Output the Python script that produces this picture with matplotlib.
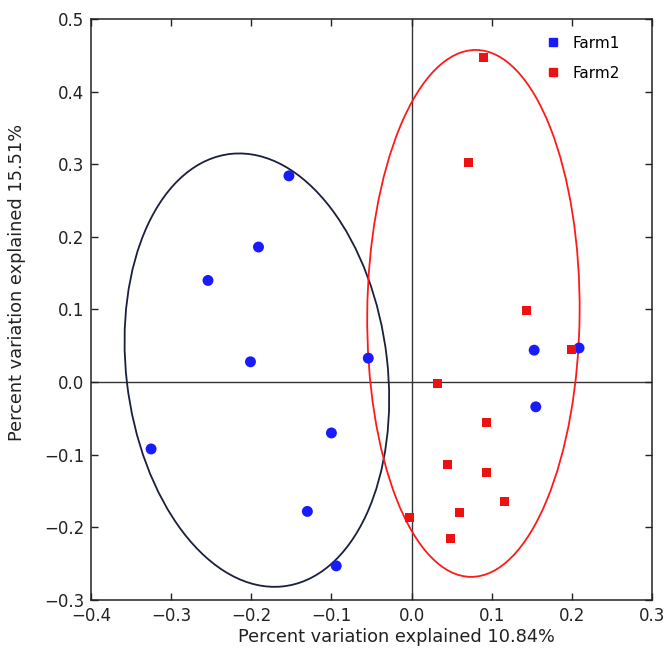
import matplotlib
matplotlib.use("Agg")
import matplotlib.pyplot as plt
from matplotlib.patches import Ellipse
from matplotlib.lines import Line2D

# Farm1 PCoA scores (blue circles)
farm1_x = [-0.153, -0.191, -0.254, -0.201, -0.054, -0.325, -0.100, -0.130, -0.094,
           0.153, 0.209, 0.155]
farm1_y = [0.284, 0.186, 0.140, 0.028, 0.033, -0.092, -0.070, -0.178, -0.253,
           0.044, 0.047, -0.034]

# Farm2 PCoA scores (red squares)
farm2_x = [0.090, 0.071, 0.144, 0.199, 0.032, 0.093, 0.045, 0.093, 0.116, 0.060,
           -0.003, 0.048]
farm2_y = [0.447, 0.303, 0.099, 0.045, -0.002, -0.055, -0.113, -0.124, -0.165,
           -0.179, -0.186, -0.215]

# confidence ellipses: centre, width, height, angle
ellipse1 = ((-0.193, 0.0165), 0.326, 0.599, 6.0)
ellipse2 = ((0.0772, 0.0946), 0.265, 0.7255, -0.5)

xticks = [-0.4, -0.3, -0.2, -0.1, 0.0, 0.1, 0.2, 0.3]
yticks = [-0.3, -0.2, -0.1, 0.0, 0.1, 0.2, 0.3, 0.4, 0.5]


def main():
    fig = plt.figure(figsize=(6.67, 6.59), dpi=100)
    ax = fig.add_axes([0.1364, 0.0895, 0.9775 - 0.1364, 0.9712 - 0.0895])

    ax.axhline(0, color="#333333", lw=1.0, zorder=1)
    ax.axvline(0, color="#333333", lw=1.0, zorder=1)

    ax.scatter(farm1_x, farm1_y, s=62, marker="o", color="#1a1aff", edgecolors="none", zorder=3)
    ax.scatter(farm2_x, farm2_y, s=42, marker="s", color="#ee1111", edgecolors="none", zorder=3)

    (c1, w1, h1, a1) = ellipse1
    ax.add_patch(Ellipse(c1, w1, h1, angle=a1, fill=False, edgecolor="#1a1f3d", lw=1.3, zorder=2))
    (c2, w2, h2, a2) = ellipse2
    ax.add_patch(Ellipse(c2, w2, h2, angle=a2, fill=False, edgecolor="#ff1a1a", lw=1.3, zorder=2))

    ax.set_xlim(-0.4, 0.3)
    ax.set_ylim(-0.3, 0.5)
    ax.set_xticks(xticks)
    ax.set_yticks(yticks)
    ax.set_xticklabels(["\u22120.4", "\u22120.3", "\u22120.2", "\u22120.1", "0.0", "0.1", "0.2", "0.3"])
    ax.set_yticklabels(["\u22120.3", "\u22120.2", "\u22120.1", "0.0", "0.1", "0.2", "0.3", "0.4", "0.5"])
    ax.tick_params(direction="in", length=5, width=1, top=True, right=True,
                   labelsize=12, colors="#222222", pad=5)
    for sp in ax.spines.values():
        sp.set_color("#222222")
        sp.set_linewidth(1.1)

    ax.set_xlabel("Percent variation explained 10.84%", fontsize=12.8, color="#222222")
    ax.set_ylabel("Percent variation explained 15.51%", fontsize=12.8, color="#222222")
    ax.xaxis.set_label_coords(0.544, -0.048)
    ax.yaxis.set_label_coords(-0.115, 0.547)

    handles = [
        Line2D([], [], marker="s", ls="none", color="#1a1aff", markersize=6),
        Line2D([], [], marker="s", ls="none", color="#ee1111", markersize=6),
    ]
    ax.legend(handles, ["Farm1", "Farm2"], loc="upper right", frameon=False,
              bbox_to_anchor=(0.954, 0.982), borderaxespad=0,
              fontsize=11, handletextpad=0.3, labelspacing=1.0)

    fig.savefig("out.png", dpi=100)


if __name__ == '__main__':
    main()
